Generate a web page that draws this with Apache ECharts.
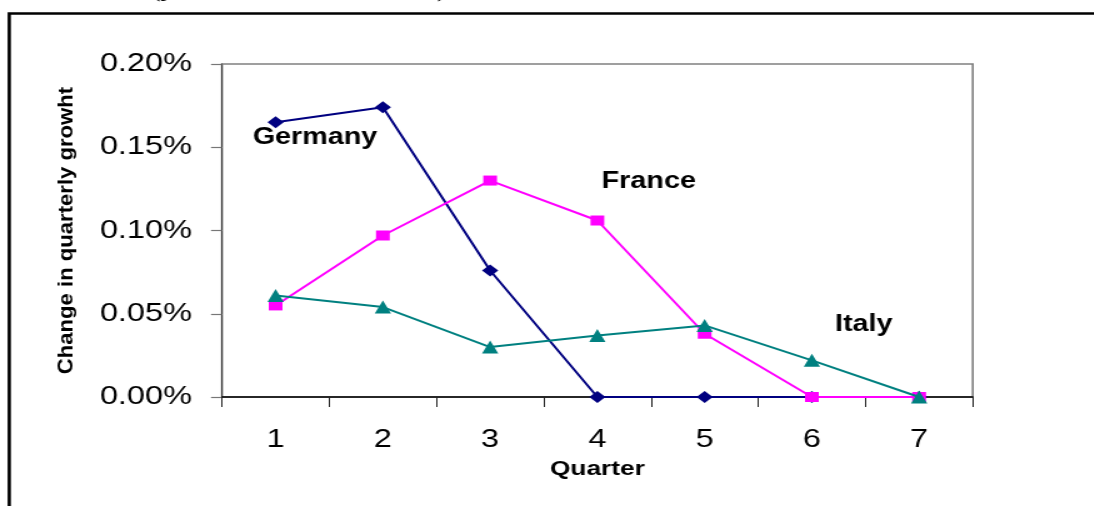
<!DOCTYPE html>
<html>
<head>
<meta charset="utf-8">
<script src="https://cdn.jsdelivr.net/npm/echarts@6/dist/echarts.min.js"></script>
<style>
  html, body { margin: 0; padding: 0; background: #fff; overflow: hidden; }
  #wrap { width: 1094px; height: 506px; position: relative; overflow: hidden; }
  /* the chart is laid out narrower and stretched sideways */
  #chart { position: absolute; left: 0; top: 0; width: 875.2px; height: 506px;
           transform: scaleX(1.25); transform-origin: 0 0; }
</style>
</head>
<body>
<div id="wrap"><div id="chart"></div></div>
<script>
// Quarters after the change
const quarters = ['1', '2', '3', '4', '5', '6', '7'];

// Change in quarterly growth, in percent
const germany = [0.165, 0.174, 0.076, 0, 0, 0, 0];
const france  = [0.055, 0.097, 0.130, 0.106, 0.038, 0, 0];
const italy   = [0.061, 0.054, 0.030, 0.037, 0.043, 0.022, 0];

// Value axis ticks
const yMin = 0, yMax = 0.2, yStep = 0.05;

const FONT = '"Liberation Sans", Arial, sans-serif';

const chart = echarts.init(document.getElementById('chart'), null, { renderer: 'canvas' });

const option = {
  animation: false,
  backgroundColor: '#fff',
  grid: {
    left: 177.6, right: 96.8, top: 64, bottom: 109,
    show: true, borderColor: '#808080', borderWidth: 1.6, backgroundColor: 'transparent'
  },
  xAxis: {
    type: 'category',
    data: quarters,
    boundaryGap: true,
    name: 'Quarter',
    nameLocation: 'middle',
    nameGap: 62,
    nameTextStyle: { fontFamily: FONT, fontWeight: 'bold', fontSize: 21, color: '#000' },
    axisLine: { lineStyle: { color: '#000', width: 1.5 } },
    axisTick: { show: true, length: 10, lineStyle: { color: '#222', width: 1 } },
    axisLabel: { fontFamily: FONT, fontSize: 26, color: '#000', margin: 30 },
    splitLine: { show: false }
  },
  yAxis: {
    type: 'value',
    min: yMin, max: yMax, interval: yStep,
    axisLine: { show: true, lineStyle: { color: '#333', width: 1 } },
    axisTick: { show: true, length: 8.8, lineStyle: { color: '#777', width: 1.2 } },
    axisLabel: {
      fontFamily: FONT, fontSize: 26, color: '#000', margin: 24,
      formatter: v => v.toFixed(2) + '%'
    },
    splitLine: { show: false }
  },
  series: [
    {
      name: 'Germany', type: 'line', data: germany,
      symbol: 'diamond', symbolSize: [13, 12],
      lineStyle: { color: '#000080', width: 2 },
      itemStyle: { color: '#000080' }, z: 2
    },
    {
      name: 'France', type: 'line', data: france,
      symbol: 'rect', symbolSize: [11, 10],
      lineStyle: { color: '#FF00FF', width: 2 },
      itemStyle: { color: '#FF00FF' }, z: 3
    },
    {
      name: 'Italy', type: 'line', data: italy,
      symbol: 'triangle', symbolSize: [13, 13],
      lineStyle: { color: '#008080', width: 2 },
      itemStyle: { color: '#008080' }, z: 4
    }
  ],
  graphic: [
    // outer frame
    { type: 'polyline', silent: true, z: 10,
      shape: { points: [[7.4, 506], [7.4, 13.5], [880, 13.5]] },
      style: { stroke: '#000', lineWidth: 2.6, fill: null } },
    // bottom of the heading line above the frame
    { type: 'text', silent: true, left: 120, top: -23,
      style: { text: '(years after the shock)', font: 'bold 25px "Liberation Serif", serif', fill: '#000' } },
    // y axis title
    { type: 'text', silent: true, x: 53.6, y: 230.5, rotation: Math.PI / 2, scaleX: 1.3,
      style: { text: 'Change in quarterly growht', font: 'bold 17px ' + FONT, fill: '#000',
               align: 'center', verticalAlign: 'middle' } },
    // series annotations
    { type: 'text', silent: true, x: 252, y: 138,
      style: { text: 'Germany', font: 'bold 23px ' + FONT, fill: '#000', align: 'center', verticalAlign: 'middle' } },
    { type: 'text', silent: true, x: 519, y: 182,
      style: { text: 'France', font: 'bold 23px ' + FONT, fill: '#000', align: 'center', verticalAlign: 'middle' } },
    { type: 'text', silent: true, x: 691, y: 325,
      style: { text: 'Italy', font: 'bold 23px ' + FONT, fill: '#000', align: 'center', verticalAlign: 'middle' } }
  ]
};

chart.setOption(option);
</script>
</body>
</html>
